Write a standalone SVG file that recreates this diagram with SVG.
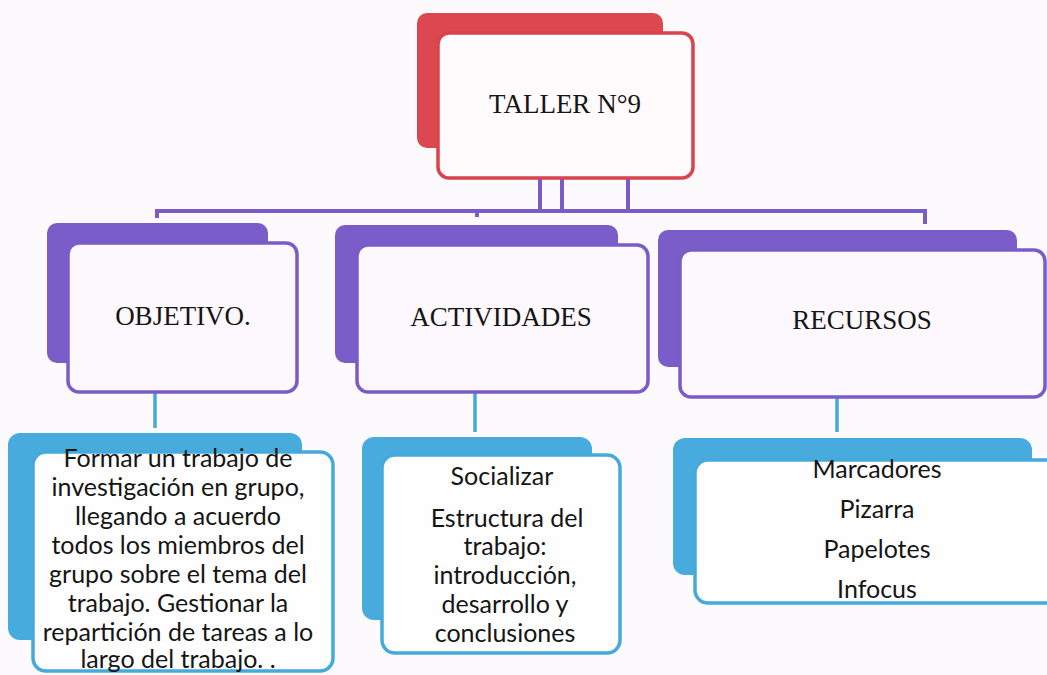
<svg xmlns="http://www.w3.org/2000/svg" width="1047" height="675" viewBox="0 0 1047 675">
<style>
.bg{fill:#fdfafd}
.redback{fill:#dc4850}
.redfront{fill:#fffbfd;stroke:#d9434c;stroke-width:3.5}
.purback{fill:#7b5dca}
.purfront{fill:#fdf8fd;stroke:#7a5cc8;stroke-width:3.5}
.bluback{fill:#47abdd}
.blufront{fill:#fefeff;stroke:#45a9db;stroke-width:3.5}
.head{font-family:"Liberation Serif",serif;font-size:27px;fill:#151515;text-anchor:middle}
.body{font-family:Lato,"Liberation Sans",sans-serif;font-size:25px;fill:#151515;text-anchor:middle}
.pl{fill:none;stroke:#7a5cc8;stroke-width:4}
.bl{fill:none;stroke:#45a9db;stroke-width:3.5}
</style>
<rect class="bg" x="0" y="0" width="1047" height="675"/>
<g id="connectors">
<path class="pl" d="M157,218 V211 H925 V224"/>
<path class="pl" d="M540,178 V211 M562,178 V211 M628,178 V211 M477,211 V217"/>
<path class="bl" d="M155,392 V428 M475,392 V432 M837,397 V432"/>
</g>
<g id="taller">
<rect class="redback" x="417" y="13" width="246" height="135" rx="10"/>
<rect class="redfront" x="438" y="33" width="255" height="145" rx="11"/>
<text class="head" x="565" y="113">TALLER N°9</text>
</g>
<g id="objetivo">
<rect class="purback" x="47" y="223" width="221" height="140" rx="10"/>
<rect class="purfront" x="68" y="243" width="229" height="149" rx="11"/>
<text class="head" x="183" y="325">OBJETIVO.</text>
</g>
<g id="actividades">
<rect class="purback" x="335" y="225" width="283" height="138" rx="10"/>
<rect class="purfront" x="357" y="245" width="291" height="147" rx="11"/>
<text class="head" x="501" y="326">ACTIVIDADES</text>
</g>
<g id="recursos">
<rect class="purback" x="658" y="230" width="359" height="137" rx="10"/>
<rect class="purfront" x="680" y="250" width="365" height="147" rx="11"/>
<text class="head" x="862" y="329">RECURSOS</text>
</g>
<g id="objetivo-detalle">
<rect class="bluback" x="8" y="433" width="294" height="207" rx="12"/>
<rect class="blufront" x="33" y="452" width="300" height="219" rx="13"/>
<text class="body" x="178" y="467">Formar un trabajo de</text>
<text class="body" x="178" y="496">investigación en grupo,</text>
<text class="body" x="178" y="525">llegando a acuerdo</text>
<text class="body" x="178" y="554">todos los miembros del</text>
<text class="body" x="178" y="583">grupo sobre el tema del</text>
<text class="body" x="178" y="612">trabajo. Gestionar la</text>
<text class="body" x="178" y="641">repartición de tareas a lo</text>
<text class="body" x="178" y="668">largo del trabajo. .</text>
</g>
<g id="actividades-detalle">
<rect class="bluback" x="362" y="437" width="230" height="183" rx="12"/>
<rect class="blufront" x="382" y="455" width="238" height="198" rx="13"/>
<text class="body" x="502" y="485">Socializar</text>
<text class="body" x="507" y="527">Estructura del</text>
<text class="body" x="505" y="555">trabajo:</text>
<text class="body" x="505" y="584">introducción,</text>
<text class="body" x="505" y="613">desarrollo y</text>
<text class="body" x="505" y="642">conclusiones</text>
</g>
<g id="recursos-detalle">
<rect class="bluback" x="673" y="438" width="359" height="137" rx="12"/>
<rect class="blufront" x="695" y="460" width="370" height="143" rx="13"/>
<text class="body" x="877" y="478">Marcadores</text>
<text class="body" x="877" y="518">Pizarra</text>
<text class="body" x="877" y="558">Papelotes</text>
<text class="body" x="877" y="598">Infocus</text>
</g>
</svg>
